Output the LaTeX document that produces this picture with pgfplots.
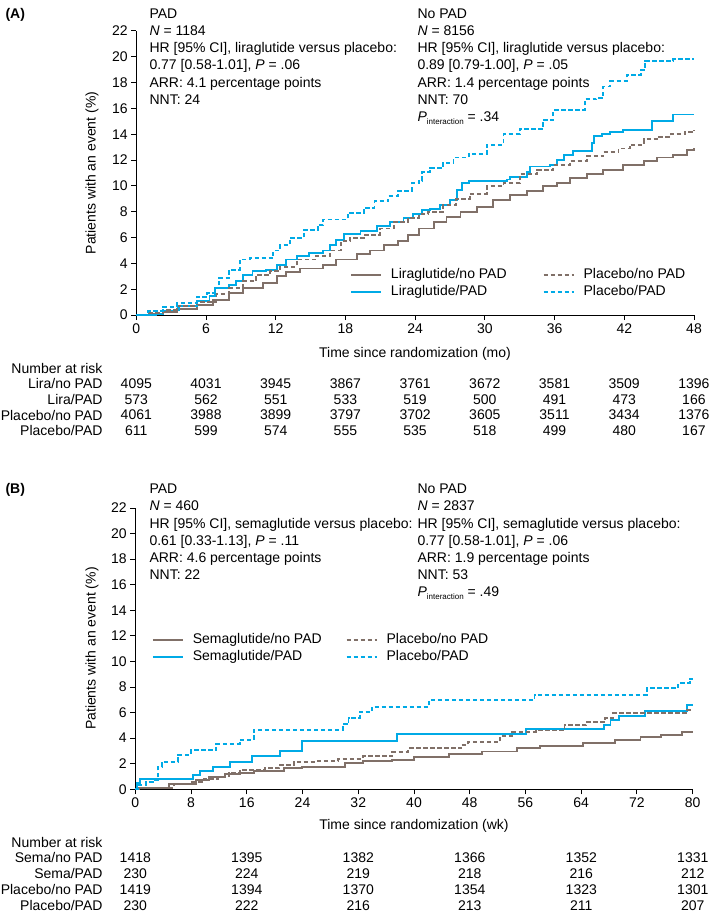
\documentclass[border=0pt]{standalone}
\usepackage{fontspec}
\setmainfont{Liberation Sans}
\usepackage{pgfplots}
\pgfplotsset{compat=1.18}
\definecolor{cblue}{RGB}{0,170,230}
\definecolor{cbrown}{RGB}{128,112,104}
\newcommand{\fs}{\fontsize{14}{17}\selectfont}
\newcommand{\Pint}{\textit{P}\raisebox{-3pt}{\fontsize{8}{8}\selectfont interaction}}
\begin{document}
\begin{tikzpicture}[x=1pt,y=1pt,font=\fs]
\useasboundingbox (0,0) rectangle (709,-915);
\pgfplotsset{
 kmaxis/.style={scale only axis, axis lines=left, axis line style={black, line width=1pt, -},
  tick align=outside, major tick length=5pt, tick style={black, line width=1pt},
  ymin=0, ymax=22, ytick={0,2,...,22},
  /pgf/number format/assume math mode=true,
  tick label style={font=\fs}, clip=false,
  legend cell align=left, legend columns=2, transpose legend,
  legend style={draw=none, fill=none, inner sep=0pt, column sep=9pt,
    nodes={inner sep=0pt, text height=10pt, text depth=3pt}, row sep=4pt, font=\fs},
  legend image code/.code={\draw[##1] (0pt,0pt) -- (30pt,0pt);}},
 sline/.style={const plot, line width=1.9pt, no marks},
 dline/.style={const plot, line width=1.9pt, no marks, dash pattern=on 4.5pt off 2.5pt},
}
% ---------------- Panel A ----------------
\begin{axis}[kmaxis, at={(136.3pt,-315pt)}, anchor=south west, width=557.7pt, height=284pt,
  xmin=0, xmax=48, xtick={0,6,...,48},
  legend style={at={(axis description cs:0.383,0.111)}, anchor=west,
    /tikz/every even column/.append style={column sep=36pt}}]
\addplot[sline, cbrown] coordinates {(0,0) (1.1,0.1) (2.3,0.26) (3.5,0.45) (5.2,0.78) (6.6,1.17) (8.0,1.7) (9.2,2.1) (10.9,2.5) (12.1,3.0) (12.9,3.3) (14.1,3.6) (16.1,3.9) (17.2,4.3) (19.0,4.7) (20.1,5.0) (21.3,5.4) (22.5,5.7) (23.4,6.2) (24.3,6.7) (25.6,7.2) (26.7,7.6) (27.9,8.0) (29.3,8.4) (30.7,8.9) (32.2,9.3) (33.6,9.6) (35.0,9.96) (36.2,10.2) (37.3,10.6) (38.8,10.9) (40.2,11.25) (41.9,11.6) (43.7,11.9) (44.8,12.2) (46.2,12.4) (47.4,12.8) (48,12.9)};
\addlegendentry{Liraglutide/no PAD}
\addplot[sline, cblue] coordinates {(0,0) (1.7,0.1) (2.3,0.35) (3.7,0.7) (5.2,1.1) (6.3,1.5) (6.8,2.07) (8.0,2.3) (8.6,2.6) (9.2,3.1) (10.0,3.4) (11.2,3.5) (12.1,3.9) (12.9,4.3) (13.8,4.6) (14.9,4.8) (16.1,5.0) (16.7,5.4) (17.2,5.8) (17.9,6.3) (19.3,6.5) (20.7,6.9) (21.8,7.2) (23.0,7.5) (23.8,7.8) (24.6,8.15) (25.3,8.2) (26.1,8.5) (27.0,8.9) (27.6,9.7) (28.0,10.2) (28.6,10.35) (31.9,10.5) (32.2,10.7) (33.6,11.1) (33.9,11.5) (35.6,11.6) (36.2,12.0) (36.8,12.4) (37.6,12.7) (39.2,13.3) (39.4,13.9) (40.1,14.0) (40.8,14.2) (41.9,14.36) (44.4,15.0) (46.2,15.53) (48,15.53)};
\addlegendentry{Liraglutide/PAD}
\addplot[dline, cbrown] coordinates {(0,0) (1.0,0.15) (2.3,0.4) (3.5,0.7) (5.2,1.0) (6.9,1.6) (8.0,2.07) (9.2,2.6) (10.3,3.1) (11.5,3.4) (12.4,3.75) (13.8,4.3) (15.5,4.6) (16.7,5.0) (17.6,5.7) (18.4,5.95) (19.6,6.2) (21.0,6.7) (22.2,7.2) (23.4,7.5) (24.3,7.8) (25.1,8.0) (26.4,8.5) (27.5,9.0) (28.7,9.4) (30.2,9.96) (31.6,10.2) (33.0,10.9) (34.5,11.25) (35.9,11.6) (37.3,11.9) (38.8,12.3) (40.2,12.6) (41.5,12.9) (42.5,13.2) (43.7,13.6) (45.0,13.8) (46.0,14.0) (47.2,14.2) (48,14.3)};
\addlegendentry{Placebo/no PAD}
\addplot[dline, cblue] coordinates {(0,0) (1.0,0.3) (2.3,0.65) (3.5,0.9) (5.2,1.4) (6.1,1.7) (6.8,2.07) (7.1,2.85) (8.0,3.5) (8.9,4.3) (9.8,4.4) (11.8,5.0) (12.4,5.4) (13.2,5.95) (14.4,6.6) (15.6,7.0) (16.1,7.4) (18.2,7.9) (19.6,8.3) (20.5,8.8) (21.7,9.2) (22.5,9.6) (23.7,10.2) (24.3,10.4) (24.6,11.1) (25.3,11.4) (26.4,11.8) (27.3,12.2) (28.6,12.5) (30.2,13.2) (31.6,14.0) (33.0,14.4) (35.0,15.1) (35.9,15.9) (38.6,16.7) (39.6,16.8) (40.2,17.7) (40.8,18.1) (42.2,18.6) (43.4,19.0) (43.8,19.7) (46.2,19.85) (48,19.85)};
\addlegendentry{Placebo/PAD}
\end{axis}
\node[font=\fs\bfseries, anchor=base west] at (2,-18.3) {(A)};
\node[rotate=90] at (92,-173) {Patients with an event (\%)};
\node at (415,-354) {Time since randomization (mo)};
\foreach \t [count=\i] in {PAD, \textit{N} = 1184, {HR [95\% CI], liraglutide versus placebo:}, {0.77 [0.58-1.01], \textit{P} = .06}, ARR: 4.1 percentage points, NNT: 24}
  \node[anchor=base west] at (146,{-18.3-17.2*(\i-1)}) {\t};
\foreach \t [count=\i] in {No PAD, \textit{N} = 8156, {HR [95\% CI], liraglutide versus placebo:}, {0.89 [0.79-1.00], \textit{P} = .05}, ARR: 1.4 percentage points, NNT: 70, \Pint{} = .34}
  \node[anchor=base west] at (414,{-18.3-17.2*(\i-1)}) {\t};
\node[anchor=east] at (106,-368) {Number at risk};
\node[anchor=east] at (106,-383.5) {Lira/no PAD};
\node[anchor=east] at (106,-399.3) {Lira/PAD};
\node[anchor=east] at (106,-415.1) {Placebo/no PAD};
\node[anchor=east] at (106,-430.9) {Placebo/PAD};
\foreach \v [count=\i from 0] in {4095,4031,3945,3867,3761,3672,3581,3509,1396} \node at ({136.3+69.7*\i},-383.5) {\v};
\foreach \v [count=\i from 0] in {573,562,551,533,519,500,491,473,166} \node at ({136.3+69.7*\i},-399.3) {\v};
\foreach \v [count=\i from 0] in {4061,3988,3899,3797,3702,3605,3511,3434,1376} \node at ({136.3+69.7*\i},-415.1) {\v};
\foreach \v [count=\i from 0] in {611,599,574,555,535,518,499,480,167} \node at ({136.3+69.7*\i},-430.9) {\v};
% ---------------- Panel B ----------------
\begin{axis}[kmaxis, at={(135.3pt,-789.3pt)}, anchor=south west, width=557.4pt, height=281.3pt,
  xmin=0, xmax=80, xtick={0,8,...,80},
  legend style={at={(axis description cs:0.0294,0.501)}, anchor=west,
    /tikz/every even column/.append style={column sep=24pt}}]
\addplot[sline, cbrown] coordinates {(0,0) (0.5,0.12) (4.8,0.42) (8.75,0.73) (10.6,0.94) (12.9,1.2) (15.0,1.3) (17.1,1.45) (21.3,1.64) (23.9,1.77) (30.1,2.03) (32.7,2.2) (36.9,2.3) (40,2.55) (45,2.75) (49.8,2.96) (54.8,3.2) (58.1,3.4) (64.3,3.6) (68.9,3.87) (72.5,4.1) (75.4,4.25) (78.5,4.45) (80,4.45)};
\addlegendentry{Semaglutide/no PAD}
\addplot[sline, cblue] coordinates {(0,0) (0.3,0.47) (0.7,0.78) (8.3,1.1) (9.3,1.4) (11.2,1.77) (13.6,2.16) (16.7,2.6) (20.8,3.0) (23.9,3.8) (37.6,4.35) (56.1,4.7) (67.3,5.0) (68.2,5.4) (69.4,5.7) (73.2,6.15) (79.2,6.6) (80,6.6)};
\addlegendentry{Semaglutide/PAD}
\addplot[dline, cbrown] coordinates {(0,0) (0.5,0.12) (5.5,0.4) (8.2,0.55) (9.8,0.8) (11.9,1.0) (13.4,1.25) (15.0,1.5) (18.6,1.64) (20.7,1.9) (22.8,2.16) (25.9,2.23) (29.1,2.4) (32.7,2.6) (36.9,2.95) (39.2,3.2) (46.8,3.5) (47.8,3.7) (52.4,4.2) (54.1,4.5) (57.5,4.6) (61.6,5.0) (64.7,5.25) (67.4,5.56) (68.6,5.95) (79.2,6.2) (80,6.2)};
\addlegendentry{Placebo/no PAD}
\addplot[dline, cblue] coordinates {(0,0) (0.4,0.34) (1.5,0.6) (2.5,0.73) (3.3,1.77) (3.8,2.16) (6.1,2.7) (8.0,3.06) (11.6,3.55) (15.0,3.86) (17.0,4.65) (29.8,5.1) (30.6,5.56) (32.2,6.07) (34.0,6.47) (42.2,7.0) (57.3,7.4) (73.4,7.9) (77.9,8.3) (79.6,8.65) (80,8.65)};
\addlegendentry{Placebo/PAD}
\end{axis}
\node[font=\fs\bfseries, anchor=base west] at (2,-493.7) {(B)};
\node[rotate=90] at (92,-648.6) {Patients with an event (\%)};
\node at (414,-826) {Time since randomization (wk)};
\foreach \t [count=\i] in {PAD, \textit{N} = 460, {HR [95\% CI], semaglutide versus placebo:}, {0.61 [0.33-1.13], \textit{P} = .11}, ARR: 4.6 percentage points, NNT: 22}
  \node[anchor=base west] at (146,{-493.7-17.2*(\i-1)}) {\t};
\foreach \t [count=\i] in {No PAD, \textit{N} = 2837, {HR [95\% CI], semaglutide versus placebo:}, {0.77 [0.58-1.01], \textit{P} = .06}, ARR: 1.9 percentage points, NNT: 53, \Pint{} = .49}
  \node[anchor=base west] at (414,{-493.7-17.2*(\i-1)}) {\t};
\node[anchor=east] at (106,-842) {Number at risk};
\node[anchor=east] at (106,-857.8) {Sema/no PAD};
\node[anchor=east] at (106,-873.6) {Sema/PAD};
\node[anchor=east] at (106,-889.4) {Placebo/no PAD};
\node[anchor=east] at (106,-905.2) {Placebo/PAD};
\foreach \v [count=\i from 0] in {1418,1395,1382,1366,1352,1331} \node at ({135.3+111.5*\i},-857.8) {\v};
\foreach \v [count=\i from 0] in {230,224,219,218,216,212} \node at ({135.3+111.5*\i},-873.6) {\v};
\foreach \v [count=\i from 0] in {1419,1394,1370,1354,1323,1301} \node at ({135.3+111.5*\i},-889.4) {\v};
\foreach \v [count=\i from 0] in {230,222,216,213,211,207} \node at ({135.3+111.5*\i},-905.2) {\v};
\end{tikzpicture}
\end{document}
